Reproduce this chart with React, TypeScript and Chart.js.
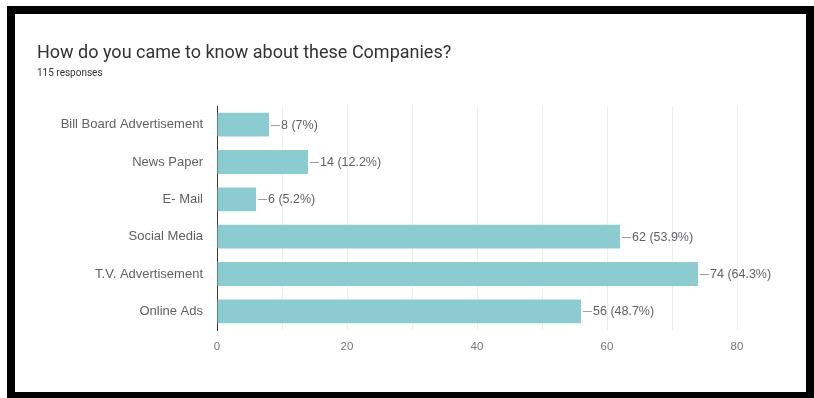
import React, { useEffect, useRef } from "react";
import { Chart, registerables } from "chart.js";

Chart.register(...registerables);

const categories = [
  "Bill Board Advertisement",
  "News Paper",
  "E- Mail",
  "Social Media",
  "T.V. Advertisement",
  "Online Ads",
];
const counts = [8, 14, 6, 62, 74, 56];
const percents = ["7%", "12.2%", "5.2%", "53.9%", "64.3%", "48.7%"];
const xTicks = [0, 20, 40, 60, 80];
const title = "How do you came to know about these Companies?";
const subtitle = "115 responses";

const FONT = "Roboto, 'Noto Sans', Arial, sans-serif";
const LFONT = "'Liberation Sans', Arial, sans-serif";

const valueLabels = {
  id: "valueLabels",
  afterDatasetsDraw(chart: any) {
    const ctx = chart.ctx;
    const meta = chart.getDatasetMeta(0);
    ctx.save();
    ctx.font = `12.5px ${LFONT}`;
    ctx.fillStyle = "#5f6368";
    ctx.strokeStyle = "#9aa0a6";
    ctx.lineWidth = 1;
    ctx.textBaseline = "middle";
    meta.data.forEach((bar: any, i: number) => {
      const x = bar.x;
      const y = Math.round(bar.y) + 0.5;
      ctx.beginPath();
      ctx.moveTo(x + 2, y);
      ctx.lineTo(x + 11, y);
      ctx.stroke();
      ctx.fillText(`${counts[i]} (${percents[i]})`, x + 12, y + 0.5);
    });
    ctx.restore();
  },
};

export default function App() {
  const ref = useRef<HTMLCanvasElement>(null);
  useEffect(() => {
    if (!ref.current) return;
    const chart = new Chart(ref.current, {
      type: "bar",
      data: {
        labels: categories,
        datasets: [
          {
            data: counts,
            backgroundColor: "#8ccbd0",
            categoryPercentage: 1,
            barPercentage: 0.64,
          },
        ],
      },
      options: {
        indexAxis: "y",
        animation: false,
        responsive: false,
        maintainAspectRatio: false,
        layout: { padding: { left: 0, right: 77, top: 106, bottom: 38 } },
        plugins: {
          legend: { display: false },
          tooltip: { enabled: false },
        },
        scales: {
          x: {
            min: 0,
            max: 80,
            afterFit(scale: any) {
              scale.height = 30;
            },
            afterBuildTicks(scale: any) {
              const t: any[] = [];
              for (let v = 0; v <= 80; v += 10) t.push({ value: v });
              scale.ticks = t;
            },
            ticks: {
              padding: 10,
              color: "#757575",
              font: { family: LFONT, size: 11.5 },
              maxRotation: 0,
              autoSkip: false,
              callback: (v: any) => (xTicks.includes(Number(v)) ? String(v) : ""),
            },
            grid: {
              color: "#eeeeee",
              drawTicks: false,
            },
            border: { display: false },
          },
          y: {
            afterFit(scale: any) {
              scale.width = 217;
            },
            ticks: {
              padding: 14,
              color: "#616161",
              font: { family: LFONT, size: 13 },
              autoSkip: false,
            },
            grid: { display: false, drawTicks: false },
            border: { display: true, color: "#333333", width: 1 },
          },
        },
      },
      plugins: [valueLabels],
    });
    return () => chart.destroy();
  }, []);

  return (
    <div
      style={{
        position: "absolute",
        left: 0,
        top: 0,
        width: 814,
        height: 398,
        background: "#ffffff",
        overflow: "hidden",
      }}
    >
      <canvas
        ref={ref}
        width={814}
        height={398}
        style={{ position: "absolute", left: 0, top: 0, width: 814, height: 398 }}
      />
      <div
        style={{
          position: "absolute",
          left: 37,
          top: 41,
          fontFamily: FONT,
          fontSize: 18,
          color: "#333333",
          whiteSpace: "nowrap",
        }}
      >
        {title}
      </div>
      <div
        style={{
          position: "absolute",
          left: 37,
          top: 67,
          fontFamily: FONT,
          fontSize: 10,
          color: "#333333",
          whiteSpace: "nowrap",
        }}
      >
        {subtitle}
      </div>
      <div
        style={{
          position: "absolute",
          left: 7,
          top: 6,
          width: 807,
          height: 392,
          boxSizing: "border-box",
          borderTop: "8px solid #000",
          borderLeft: "8px solid #000",
          borderRight: "8px solid #000",
          borderBottom: "6px solid #000",
          pointerEvents: "none",
        }}
      />
    </div>
  );
}
